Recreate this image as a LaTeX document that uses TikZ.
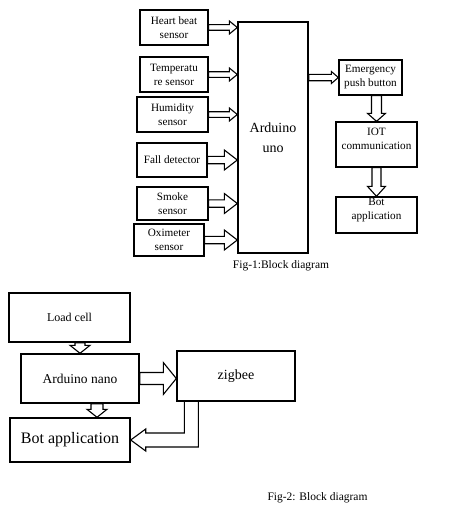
\documentclass[tikz,border=0pt]{standalone}
\usepackage{fontspec}
\setmainfont{Liberation Serif}
\usetikzlibrary{calc}
\begin{document}
\begin{tikzpicture}[x=1pt, y=-1pt,
	box/.style={draw, line width=1.3pt, align=center, inner sep=1pt, font=\fontsize{11.2}{14}\selectfont},
	bigbox/.style={draw, line width=1.4pt, align=center, inner sep=1pt},
	blk/.style={draw, line width=1.1pt, line join=miter},
	right arr/.style n args={3}{blk, to path={let \p1=(\tikztostart), \p2=(\tikztotarget) in (\x1,\y1+#1) -- (\x2-#3,\y1+#1) -- (\x2-#3,\y1+#2) -- (\x2,\y1) -- (\x2-#3,\y1-#2) -- (\x2-#3,\y1-#1) -- (\x1,\y1-#1) -- cycle}},
	down arr/.style n args={3}{blk, to path={let \p1=(\tikztostart), \p2=(\tikztotarget) in (\x1-#1,\y1) -- (\x1-#1,\y2+#3) -- (\x1-#2,\y2+#3) -- (\x1,\y2) -- (\x1+#2,\y2+#3) -- (\x1+#1,\y2+#3) -- (\x1+#1,\y1) -- cycle}}]
	\useasboundingbox (0,0) rectangle (471,511);
	% Fig-1
	\node[box, minimum width=68pt, minimum height=35pt] (hb) at (174,27.5) {Heart beat\\sensor};
	\node[box, minimum width=68pt, minimum height=35pt] (temp) at (174,74.5) {Temperatu\\re sensor};
	\node[box, minimum width=71pt, minimum height=35pt] (hum) at (172.5,114.5) {Humidity\\sensor};
	\node[box, minimum width=70pt, minimum height=34pt] (fall) at (172,160) {Fall detector};
	\node[box, minimum width=71pt, minimum height=33pt] (smoke) at (172.5,203.5) {Smoke\\sensor};
	\node[box, minimum width=70pt, minimum height=32pt] (oxi) at (169,240) {Oximeter\\sensor};
	\node[bigbox, minimum width=70pt, minimum height=231pt, font=\fontsize{14}{20}\selectfont] (uno) at (273,137.5) {Arduino\\uno};
	\node[box, minimum width=63pt, minimum height=35pt] (emg) at (370.5,77.5) {Emergency\\push button};
	\node[box, minimum width=81pt, minimum height=45pt, text depth=12pt] (iot) at (376.5,144.5) {IOT\\communication};
	\node[box, minimum width=81pt, minimum height=36pt, text depth=12pt] (bot1) at (376.5,215) {Bot\\application};
	\node[font=\fontsize{11.5}{14}\selectfont] (cap1) at (281,266) {Fig-1:Block diagram};
	\foreach \s in {hb,temp,hum}
	\draw[right arr={2.8pt}{6.5pt}{8pt}] (\s.east) to (uno.west);
	\foreach \s in {fall,smoke,oxi}
	\draw[right arr={3.7pt}{10pt}{13pt}] (\s.east) to (uno.west);
	\draw[right arr={3.2pt}{6pt}{7pt}] (uno.east |- emg.west) to (emg.west);
	\draw[down arr={5pt}{9pt}{8pt}] (iot.north |- emg.south) to (iot.north);
	\draw[down arr={4.5pt}{9pt}{10pt}] (iot.south) to (bot1.north);
	% Fig-2
	\node[bigbox, minimum width=121pt, minimum height=49pt, font=\fontsize{12}{14}\selectfont] (load) at (69.5,317.5) {Load cell};
	\node[bigbox, minimum width=118pt, minimum height=49pt, font=\fontsize{13.5}{16}\selectfont] (nano) at (80,378.5) {Arduino nano};
	\node[bigbox, minimum width=118pt, minimum height=50pt, font=\fontsize{14}{16}\selectfont] (zig) at (236,376) {zigbee};
	\node[bigbox, minimum width=120pt, minimum height=44pt, font=\fontsize{16}{18}\selectfont] (bot2) at (70,440) {Bot application};
	\node[font=\fontsize{11.5}{14}\selectfont] (cap2) at (317.5,498) {Fig-2: Block diagram};
	\draw[down arr={5pt}{10pt}{8pt}] (nano.north |- load.south) to (nano.north);
	\draw[right arr={6pt}{16pt}{13pt}] (nano.east) to (zig.west);
	\draw[down arr={6pt}{10pt}{8pt}] ([xshift=17pt]nano.south) to (bot2.north);
	\coordinate (zb) at ([xshift=15pt]zig.south west);
	\draw[blk] let \p1=(zb), \p2=(bot2.east) in (\x1-7pt,\y1) -- (\x1-7pt,\y2+7pt) -- (\x2+15pt,\y2+7pt) -- (\x2+15pt,\y2+11pt) -- (\x2,\y2) -- (\x2+15pt,\y2-11pt) -- (\x2+15pt,\y2-7pt) -- (\x1+7pt,\y2-7pt) -- (\x1+7pt,\y1);
\end{tikzpicture}
\end{document}
